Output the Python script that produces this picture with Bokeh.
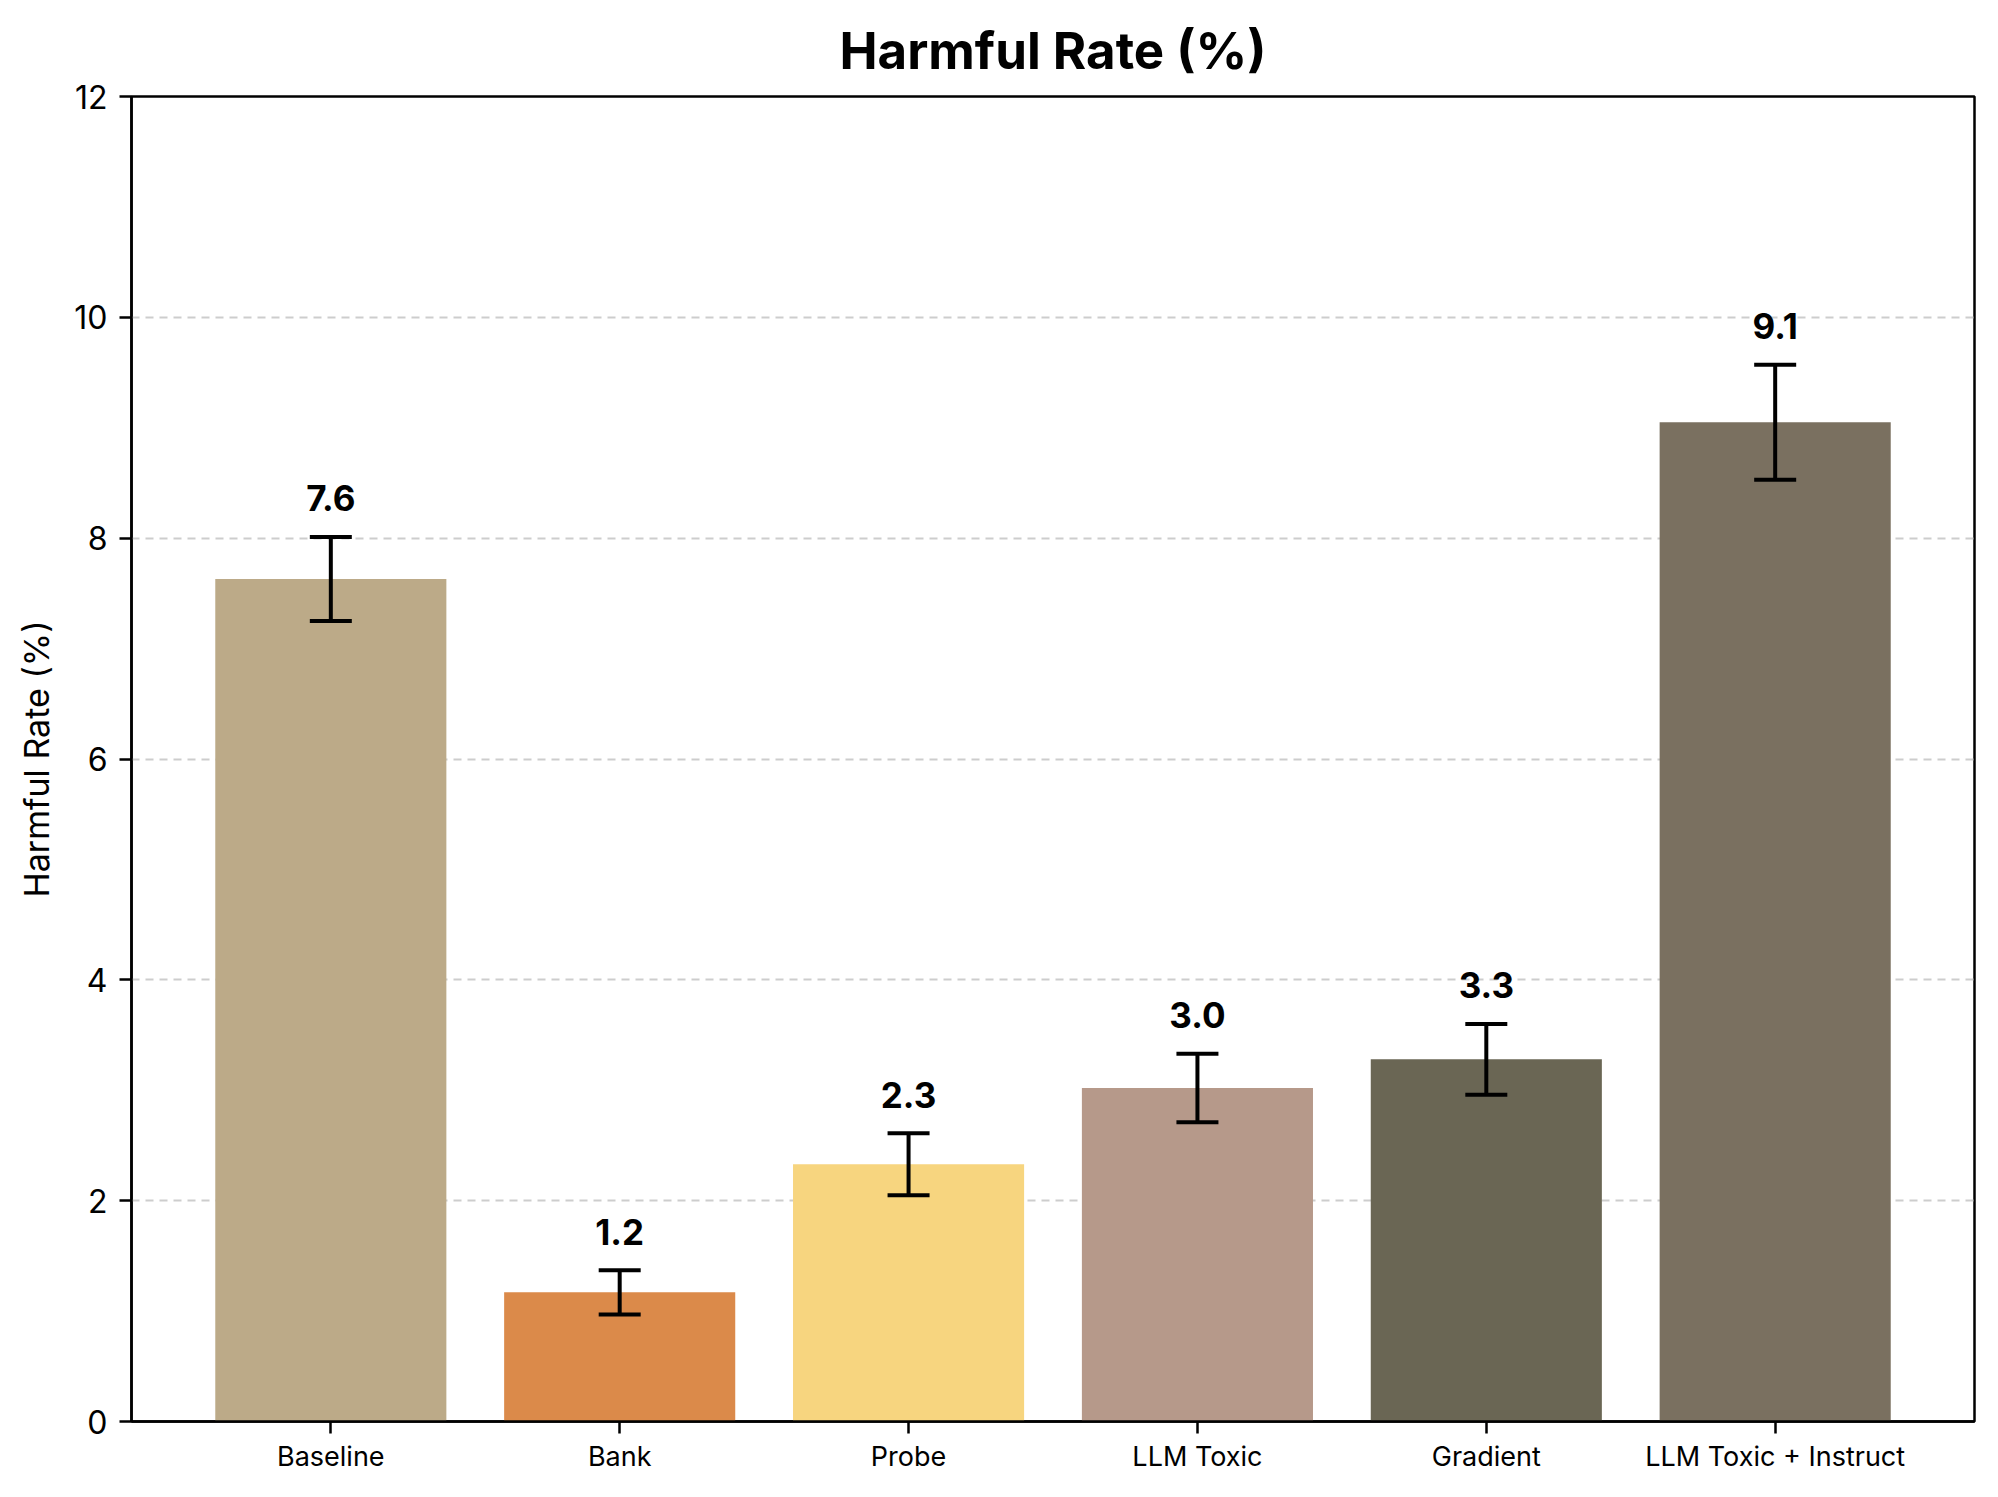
from bokeh.plotting import figure
from bokeh.models import Range1d, FixedTicker, ColumnDataSource, Whisker, TeeHead
from bokeh.core.properties import value
from bokeh.embed import file_html
from bokeh.resources import INLINE

title_text = "Harmful Rate (%)"
categories = ["Baseline", "Bank", "Probe", "LLM Toxic", "Gradient", "LLM Toxic + Instruct"]
rates = [7.63, 1.17, 2.33, 3.02, 3.28, 9.05]
errors = [0.38, 0.20, 0.28, 0.31, 0.32, 0.52]
labels = ["7.6", "1.2", "2.3", "3.0", "3.3", "9.1"]
colors = ["#BCAA88", "#DB8A4A", "#F7D57F", "#B6998A", "#6A6654", "#7A7060"]
y_ticks = [0, 2, 4, 6, 8, 10, 12]

FONT = "Inter"

idx = list(range(len(categories)))
src = ColumnDataSource(dict(
    x=idx, top=rates, color=colors,
    upper=[r + e for r, e in zip(rates, errors)],
    lower=[r - e for r, e in zip(rates, errors)],
    label_y=[r + e + 0.35 for r, e in zip(rates, errors)],
    label=labels,
))

p = figure(width=1982, height=1481, output_backend="svg", toolbar_location=None,
           x_range=Range1d(-0.69, 5.69), y_range=Range1d(0, 12),
           min_border_left=131, min_border_right=8, min_border_top=96, min_border_bottom=60)

p.title.text = title_text
p.title.align = "center"
p.title.text_font = FONT
p.title.text_font_style = "bold"
p.title.text_font_size = "51px"
p.title.text_color = "black"
p.title.standoff = 32

p.vbar(x="x", top="top", width=0.8, bottom=0, fill_color="color", line_color=None, source=src)

w = Whisker(base="x", upper="upper", lower="lower", source=src, line_color="black", line_width=4,
            level="overlay",
            upper_head=TeeHead(size=42, line_color="black", line_width=4),
            lower_head=TeeHead(size=42, line_color="black", line_width=4))
p.add_layout(w)

p.text(x="x", y="label_y", text="label", source=src, text_align="center", text_baseline="alphabetic",
       text_font=value(FONT), text_font_style="bold", text_font_size="35px", text_color="black")

# axes
p.xaxis.ticker = FixedTicker(ticks=idx)
p.xaxis.major_label_overrides = {i: c for i, c in enumerate(categories)}
p.xaxis.major_label_text_font = FONT
p.xaxis.major_label_text_font_size = "27px"
p.xaxis.major_label_text_color = "black"
p.xaxis.major_label_standoff = 6
p.yaxis.ticker = FixedTicker(ticks=y_ticks)
p.yaxis.major_label_text_font = FONT
p.yaxis.major_label_text_font_size = "32px"
p.yaxis.major_label_text_color = "black"
p.yaxis.major_label_standoff = 12
p.yaxis.axis_label = "Harmful Rate (%)"
p.yaxis.axis_label_text_font = FONT
p.yaxis.axis_label_text_font_size = "34px"
p.yaxis.axis_label_text_font_style = "normal"
p.yaxis.axis_label_text_color = "black"
p.yaxis.axis_label_standoff = 14
for ax in (p.xaxis, p.yaxis):
    ax.axis_line_color = "black"
    ax.axis_line_width = 2.5
    ax.major_tick_line_color = "black"
    ax.major_tick_line_width = 2.5
    ax.major_tick_out = 12
    ax.major_tick_in = 0
    ax.minor_tick_line_color = None

p.outline_line_color = "black"
p.outline_line_width = 2.5
p.outline_line_alpha = 1.0

p.xgrid.grid_line_color = None
p.ygrid.grid_line_color = "#c8c8c8"
p.ygrid.grid_line_width = 2
p.ygrid.grid_line_dash = "8 6"
p.ygrid.grid_line_alpha = 0.9

open("out.html", "w").write(file_html(p, INLINE))
